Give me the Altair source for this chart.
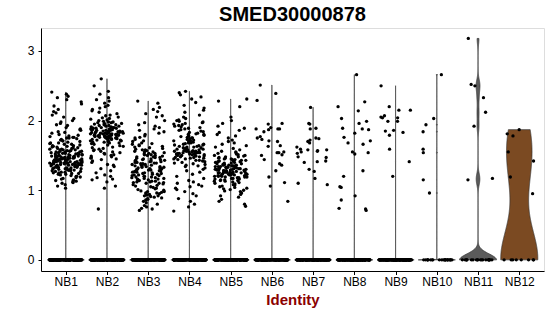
import altair as alt
import numpy as np
import pandas as pd

# ---------------- data ----------------
groups = ["NB1", "NB2", "NB3", "NB4", "NB5", "NB6", "NB7", "NB8", "NB9", "NB10", "NB11", "NB12"]

# non-zero expression values per identity, in hundredths
nz_NB1 = ("241 238 235 233 230 227 224 221 216 213 211 208 205 203 200 198 196 194 193 190 188 187 186 184 "
          "183 182 180 179 178 177 176 176 175 175 "
          "174 173 172 171 171 170 169 168 168 167 166 166 165 164 164 163 163 162 162 161 161 160 160 159 "
          "159 158 158 158 157 157 156 156 156 155 155 155 154 154 154 153 153 153 152 152 152 151 151 151 "
          "150 150 150 150 149 149 149 148 148 148 148 147 147 147 147 146 146 146 146 145 145 145 145 144 "
          "144 144 144 143 143 143 143 143 142 142 142 142 142 141 141 141 141 141 140 140 140 140 140 139 "
          "139 139 139 139 138 138 138 138 137 137 137 137 136 136 136 136 135 135 135 135 134 134 134 133 "
          "133 133 132 132 132 131 131 131 130 130 130 129 129 129 128 128 127 127 126 126 125 125 124 124 "
          "123 123 122 121 120 120 119 118 117 116 115 "
          "103 106 108 110 111 112 113 114 114")
nz_NB2 = ("260 250 242 238 233 230 228 225 222 220 218 216 214 212 210 208 207 205 204 203 202 201 200 "
          "199 198 198 197 197 196 196 195 195 194 194 193 193 192 192 191 191 190 190 190 189 189 189 188 "
          "188 188 187 187 187 186 186 186 185 185 185 184 184 184 184 183 183 183 183 182 182 182 182 181 "
          "181 181 181 180 180 180 180 179 179 179 179 178 178 178 178 177 177 177 177 176 176 176 175 175 "
          "175 174 174 174 173 173 173 172 172 171 171 170 170 169 169 168 168 167 166 165 164 163 162 161 "
          "160 159 158 157 156 155 154 153 152 151 150 149 148 147 146 145 144 "
          "142 140 137 136 134 131 128 125 122 120 118 116 115 112 106 103 73")
nz_NB3 = ("228 225 219 216 213 210 207 205 200 197 194 192 190 188 186 184 182 180 178 176 175 173 171 170 "
          "168 167 166 "
          "165 164 163 162 161 160 159 158 158 157 156 155 155 154 153 153 152 151 151 150 150 149 148 148 "
          "147 147 146 145 145 144 144 143 143 142 142 141 141 140 140 139 139 138 138 137 137 136 136 135 "
          "135 134 134 133 133 132 132 131 131 130 130 129 129 128 128 127 127 126 126 125 125 124 124 123 "
          "123 122 122 121 121 120 120 119 119 118 118 117 117 116 116 115 115 114 114 113 113 112 112 111 "
          "111 110 110 109 108 107 106 105 104 103 102 101 100 "
          "99 98 98 97 96 96 95 95 94 93 92 92 91 90 89 88 87 86 84 82 80 78 76 74 73 71")
nz_NB4 = ("242 240 237 234 231 226 222 218 215 212 208 205 203 201 200 199 198 "
          "197 196 195 194 193 192 191 190 189 188 187 186 185 184 183 182 181 180 180 179 178 177 176 175 "
          "175 174 173 172 171 171 170 169 168 168 167 166 166 165 165 164 163 163 162 162 161 161 160 160 "
          "159 159 158 158 158 157 157 157 156 156 156 155 155 155 155 154 154 154 153 153 153 152 152 152 "
          "151 151 151 150 150 150 149 149 149 148 148 147 147 146 146 145 145 144 143 143 142 141 140 139 "
          "138 137 136 135 134 "
          "132 130 128 126 123 120 117 114 112 110 108 106 105 103 101 98 95 92 88 84 80 76 70")
nz_NB5 = ("231 228 220 205 200 196 192 189 186 183 180 178 175 172 170 168 166 164 162 160 158 156 "
          "155 154 153 152 151 150 150 149 148 148 147 146 146 145 145 144 144 143 143 142 142 141 141 140 "
          "140 139 139 138 138 137 137 136 136 136 135 135 135 134 134 134 133 133 133 132 132 132 131 131 "
          "131 131 130 130 130 130 129 129 129 129 128 128 128 128 127 127 127 127 126 126 126 126 125 125 "
          "125 125 124 124 124 123 123 123 122 122 122 121 121 121 120 120 120 119 119 119 118 118 117 117 "
          "116 116 115 115 114 114 113 113 112 111 110 109 108 107 106 105 "
          "104 103 102 101 100 99 98 96 94 92 90 87 84 80 77")
nz_NB6 = ("251 239 229 196 195 190 188 188 188 187 184 177 175 173 171 170 164 163 155 154 154 151 150 144 "
          "138 136 128 119 111 106 84")
nz_NB7 = ("219 196 195 189 188 175 174 172 170 168 162 159 158 158 157 156 155 153 148 147 142 141 140 130 "
          "127 117 110 108")
nz_NB8 = ("266 227 220 214 203 199 196 189 188 187 182 176 171 168 166 155 154 152 128 120 105 104 92 86 "
          "74 73 71")
nz_NB9 = "250 220 215 215 207 205 204 204 199 199 186 185 183 179 159 141 120"
nz_NB10 = "266 203 194 184 159 154 115 96"
nz_NB11 = "318 252 250 233 212 192 117 115"
nz_NB12 = "187 181 178 155 142 119 95"

nonzero = [nz_NB1, nz_NB2, nz_NB3, nz_NB4, nz_NB5, nz_NB6, nz_NB7, nz_NB8, nz_NB9, nz_NB10, nz_NB11, nz_NB12]
zero_counts = [160, 160, 160, 160, 160, 150, 150, 150, 150, 22, 20, 8]

# violin styling
violin_bw = [0.002] * 10 + [0.085, 0.45]
violin_fill = ["#9a9a9a"] * 10 + ["#5b5b5b", "#7b4a22"]

# ---------------- tables ----------------
pt_rows = []
vio_rows = []
k = 0
for i, g in enumerate(groups):
    vals = [0.0] * zero_counts[i] + [int(s) / 100 for s in nonzero[i].split()]
    for v in vals:
        pt_rows.append({"group": g, "idx": i + 1, "expr": v, "k": k})
        k += 1
    arr = np.array(vals)
    grid = np.linspace(arr.min(), arr.max(), 400)
    bw = violin_bw[i]
    dens = np.exp(-((grid[:, None] - arr[None, :]) ** 2) / (2 * bw * bw)).sum(axis=1)
    half = dens / dens.max() * 0.45
    for y, h in zip(grid, half):
        vio_rows.append({"group": g, "idx": i + 1, "y": float(y), "half": float(h)})

pts = pd.DataFrame(pt_rows)
vio = pd.DataFrame(vio_rows)

FONT = "Liberation Sans"
xscale = alt.Scale(domain=[0.4, 12.6], nice=False, zero=False)
yscale = alt.Scale(domain=[-0.16, 3.33], nice=False, zero=False)

xaxis = alt.Axis(
    values=list(range(1, 13)),
    labelExpr="'NB' + datum.value",
    title="Identity",
    titleColor="#8b0000",
    titleFont=FONT,
    titleFontSize=15,
    titleFontWeight="bold",
    titlePadding=5,
    labelFont=FONT,
    labelFontSize=12,
    labelColor="black",
    labelPadding=2,
    tickSize=3.5,
    tickColor="black",
    domainColor="black",
    grid=False,
    labelFlush=False,
)
yaxis = alt.Axis(
    values=[0, 1, 2, 3],
    title=None,
    labelFont=FONT,
    labelFontSize=12,
    labelColor="black",
    labelPadding=4,
    tickSize=3,
    tickColor="black",
    domainColor="black",
    grid=False,
    labelFlush=False,
)

violins = alt.Chart(vio).transform_calculate(
    xl="datum.idx - datum.half", xr="datum.idx + datum.half"
).mark_area(orient="horizontal", stroke="#333333", strokeWidth=0.7, fillOpacity=1).encode(
    y=alt.Y("y:Q", scale=yscale, axis=yaxis),
    x=alt.X("xl:Q", scale=xscale, axis=xaxis),
    x2="xr:Q",
    color=alt.Color("group:N", scale=alt.Scale(domain=groups, range=violin_fill), legend=None),
)

points = alt.Chart(pts).transform_calculate(
    h="abs(sin(datum.k * 12.9898 + 4.1414) * 43758.5453) % 1"
).transform_calculate(
    xj="datum.idx + (datum.h - 0.5) * 0.8"
).mark_circle(size=11, color="black", opacity=1).encode(
    x=alt.X("xj:Q", scale=xscale, axis=xaxis),
    y=alt.Y("expr:Q", scale=yscale, axis=yaxis),
)

chart = alt.layer(violins, points).properties(
    width=503,
    height=243,
    padding={"left": 41, "top": 28, "right": 6, "bottom": 45},
    autosize=alt.AutoSizeParams(type="none"),
    title=alt.Title(
        "SMED30000878",
        font=FONT,
        fontSize=20,
        fontWeight="bold",
        color="black",
        anchor="middle",
        baseline="alphabetic",
        offset=7,
        dy=20,
    ),
).configure_view(stroke=None).configure(background="white")

chart.save("out.html", embed_options={"renderer": "svg", "actions": False})
